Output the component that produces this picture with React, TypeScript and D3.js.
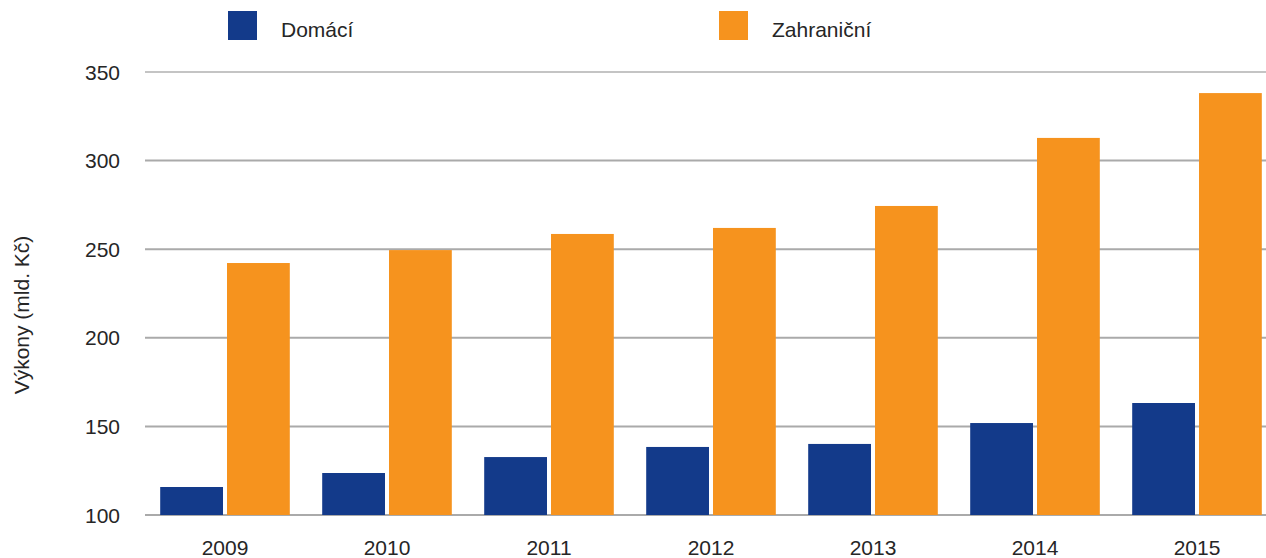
import React from "react";
import * as d3 from "d3";

const years = ["2009", "2010", "2011", "2012", "2013", "2014", "2015"];
const domaci = [115.8, 123.7, 132.7, 138.4, 140.1, 151.9, 163.2];
const zahranicni = [242.2, 249.5, 258.6, 262.0, 274.4, 312.8, 338.1];
const seriesNames = ["Domácí", "Zahraniční"];
const seriesColors = ["#133a8a", "#f6931e"];
const yTicks = [100, 150, 200, 250, 300, 350];
const yTitle = "Výkony (mld. Kč)";

const W = 1266;
const H = 558;
const FONT = "'Liberation Sans', Arial, Helvetica, sans-serif";

export default function App() {
  const y = d3.scaleLinear().domain([100, 350]).range([515, 72]);
  const x = d3.scaleBand<string>().domain(years).range([144, 1278]).paddingInner(0.2).paddingOuter(0.1);
  const xi = d3.scaleBand<string>().domain(seriesNames).range([0, x.bandwidth()]).paddingInner(0.06);
  const values = [domaci, zahranicni];
  const legendX = [228, 719];

  return (
    <svg width={W} height={H} style={{ position: "absolute", left: 0, top: 0, background: "#fff" }} fontFamily={FONT}>
      {yTicks.map((t) => (
        <g key={t}>
          <line x1={145} x2={W} y1={y(t)} y2={y(t)} stroke={t === 350 ? "#c4c4c4" : "#aaaaaa"} strokeWidth={2} />
          <text x={120} y={y(t)} textAnchor="end" dominantBaseline="central" fontSize={21} fill="#262626">{t}</text>
        </g>
      ))}
      {years.map((yr, i) => (
        <g key={yr} transform={`translate(${x(yr)},0)`}>
          {seriesNames.map((s, k) => (
            <rect key={s} x={xi(s)} y={y(values[k][i])} width={xi.bandwidth()} height={y(100) - y(values[k][i])} fill={seriesColors[k]} />
          ))}
          <text x={x.bandwidth() / 2} y={555} textAnchor="middle" fontSize={21} fill="#262626">{yr}</text>
        </g>
      ))}
      <text transform={`translate(29,315) rotate(-90)`} textAnchor="middle" fontSize={21} fill="#262626">{yTitle}</text>
      {seriesNames.map((s, k) => (
        <g key={s}>
          <rect x={legendX[k]} y={11} width={29} height={29} fill={seriesColors[k]} />
          <text x={legendX[k] + 53} y={37} fontSize={21} fill="#262626">{s}</text>
        </g>
      ))}
    </svg>
  );
}
